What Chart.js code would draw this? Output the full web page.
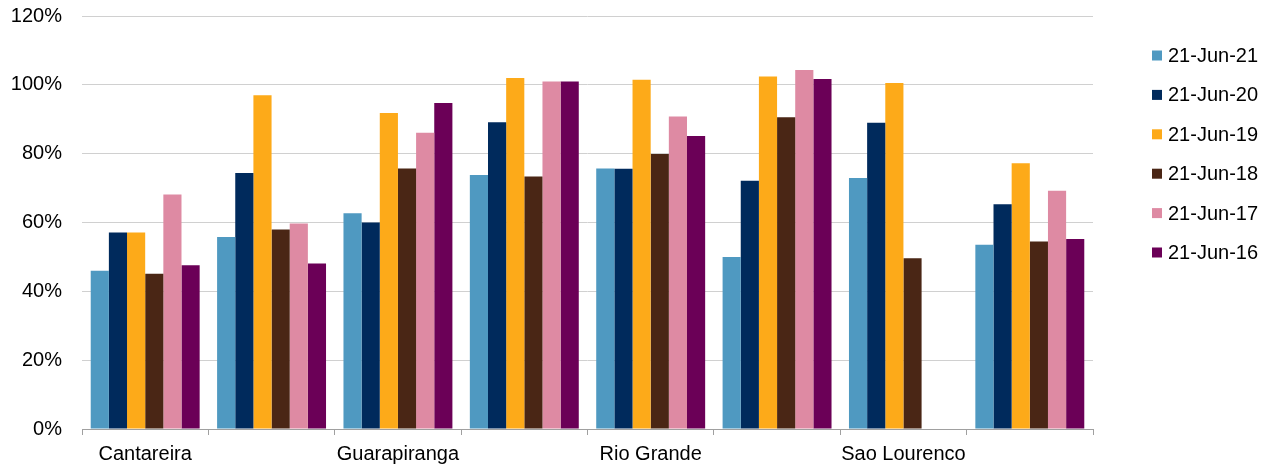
<!DOCTYPE html>
<html>
<head>
<meta charset="utf-8">
<style>
  html, body { margin: 0; padding: 0; background: #ffffff; }
  #wrap { width: 1273px; height: 468px; }
</style>
<script src="https://cdn.jsdelivr.net/npm/chart.js@4/dist/chart.umd.min.js"></script>
</head>
<body>
<div id="wrap"><canvas id="chart" width="1273" height="468"></canvas></div>
<script>
// Reservoir storage levels (% of capacity) on 21 June of each year
const categories = ['Cantareira', '', 'Guarapiranga', '', 'Rio Grande', '', 'Sao Lourenco', ''];
const seriesLabels = ['21-Jun-21', '21-Jun-20', '21-Jun-19', '21-Jun-18', '21-Jun-17', '21-Jun-16'];
const jun21 = [46.0, 55.8, 62.7, 73.8, 75.7, 50.0, 72.9, 53.5];
const jun20 = [57.1, 74.4, 60.0, 89.1, 75.6, 72.1, 89.0, 65.3];
const jun19 = [57.1, 97.0, 91.8, 102.0, 101.5, 102.4, 100.5, 77.2];
const jun18 = [45.1, 58.0, 75.7, 73.4, 79.9, 90.6, 49.6, 54.5];
const jun17 = [68.1, 59.7, 86.1, 101.0, 90.8, 104.3, null, 69.2];
const jun16 = [47.6, 48.1, 94.7, 101.0, 85.1, 101.7, null, 55.2];
const seriesColors = ['#4f99c1', '#002a5c', '#fdaa19', '#4a2615', '#de8aa3', '#6b0057'];

const FONT = '"Liberation Sans", Arial, sans-serif';
const seriesValues = [jun21, jun20, jun19, jun18, jun17, jun16];

// Legend drawn to the right of the plot, one row per series
const sideLegend = {
  id: 'sideLegend',
  afterDraw(chart) {
    const { ctx, chartArea } = chart;
    ctx.save();
    ctx.font = '20px ' + FONT;
    ctx.textBaseline = 'middle';
    ctx.textAlign = 'left';
    chart.data.datasets.forEach((ds, i) => {
      const cy = chartArea.top + 39.5 + i * 39.4;
      const bx = chartArea.right + 59;
      ctx.fillStyle = ds.backgroundColor;
      ctx.fillRect(bx, cy - 5, 10, 10);
      ctx.fillStyle = '#000000';
      ctx.fillText(ds.label, bx + 16, cy + 1);
    });
    ctx.restore();
  }
};

new Chart(document.getElementById('chart'), {
  type: 'bar',
  data: {
    labels: categories,
    datasets: seriesLabels.map((label, i) => ({
      label: label,
      data: seriesValues[i],
      backgroundColor: seriesColors[i],
      borderWidth: 0,
      categoryPercentage: 0.862,
      barPercentage: 1.0
    }))
  },
  options: {
    responsive: false,
    animation: false,
    layout: { padding: { top: 16, right: 180, bottom: 0, left: 11 } },
    plugins: {
      legend: { display: false },
      tooltip: { enabled: false }
    },
    scales: {
      x: {
        afterFit(scale) {
          scale.height = 39;
          scale.paddingLeft = 0;
          scale.paddingRight = 0;
        },
        grid: {
          offset: true,
          drawOnChartArea: false,
          drawTicks: true,
          tickLength: 6,
          color: '#a0a0a0'
        },
        border: { display: true, color: '#a0a0a0', width: 1 },
        ticks: {
          autoSkip: false,
          maxRotation: 0,
          padding: 7,
          color: '#000000',
          font: { family: FONT, size: 20 }
        }
      },
      y: {
        min: 0,
        max: 120,
        afterFit(scale) {
          scale.width = 71;
          scale.paddingTop = 0;
          scale.paddingBottom = 0;
        },
        grid: { color: '#d0d0d0', drawTicks: false, lineWidth: 1 },
        border: { display: false },
        ticks: {
          stepSize: 20,
          padding: 20,
          color: '#000000',
          font: { family: FONT, size: 20 },
          callback: (v) => v + '%'
        }
      }
    }
  },
  plugins: [sideLegend]
});
</script>
</body>
</html>
